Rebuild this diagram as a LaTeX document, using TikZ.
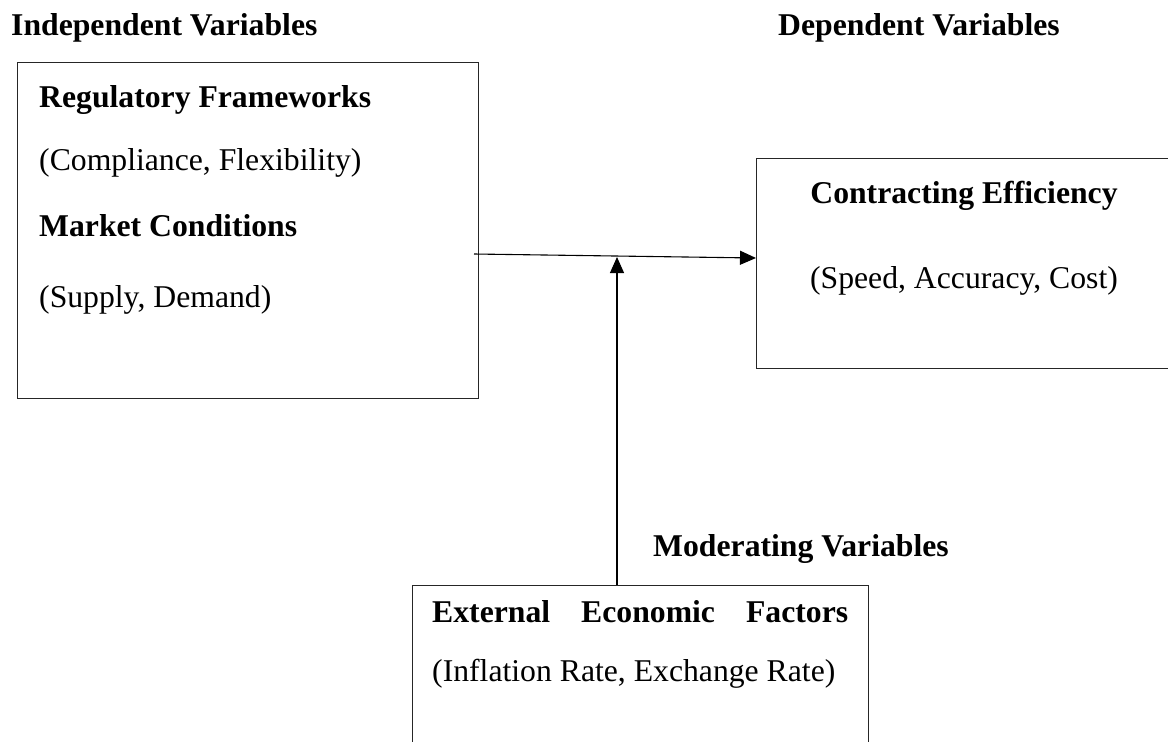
\documentclass[tikz,border=0pt]{standalone}
\usepackage{fontspec}
\setmainfont{Liberation Serif}
\usetikzlibrary{arrows.meta}
\begin{document}
\begin{tikzpicture}[x=1pt,y=-1pt,
  txt/.style={anchor=base west,inner sep=0pt,font=\fontsize{31.7}{38}\selectfont},
  hd/.style={txt,font=\fontsize{31.7}{38}\selectfont\bfseries},
  varbox/.style={draw=black!85,line width=1.2pt,anchor=north west,inner sep=0pt},
  link/.style={line width=1.1pt,-{Triangle[length=16pt,width=14pt]}}]
\useasboundingbox (0,0) rectangle (1168,742);
\clip (0,0) rectangle (1168,742);
% headings
\node[hd] (indep) at (11,35) {Independent Variables};
\node[hd] (dep) at (778,35) {Dependent Variables};
\node[hd] (mod) at (653,556) {Moderating Variables};
% boxes
\node[varbox,minimum width=461pt,minimum height=336pt] (left) at (17,62) {};
\node[varbox,minimum width=430pt,minimum height=210pt] (right) at (756,158) {};
\node[varbox,minimum width=456pt,minimum height=200pt] (bot) at (412,585) {};
% left box text
\node[hd] (reg) at (39,107) {Regulatory Frameworks};
\node[txt] (comp) at (39,170) {(Compliance, Flexibility)};
\node[hd] (mkt) at (39,236) {Market Conditions};
\node[txt] (sup) at (39,307) {(Supply, Demand)};
% right box text
\node[hd,anchor=base] (ce) at (964,203) {Contracting Efficiency};
\node[txt,anchor=base] (sac) at (964,288) {(Speed, Accuracy, Cost)};
% bottom box text
\node[hd] (eef) at (432,622) {\makebox[416pt][s]{External Economic Factors}};
\node[txt] (infl) at (432,681) {(Inflation Rate, Exchange Rate)};
% connectors
\coordinate (hstart) at (474,254);
\coordinate (hend) at (756,258);
\coordinate (vtip) at (617,257);
\draw[link] (hstart) -- (hend);
\draw[link] (bot.north -| vtip) -- (vtip);
\end{tikzpicture}
\end{document}
